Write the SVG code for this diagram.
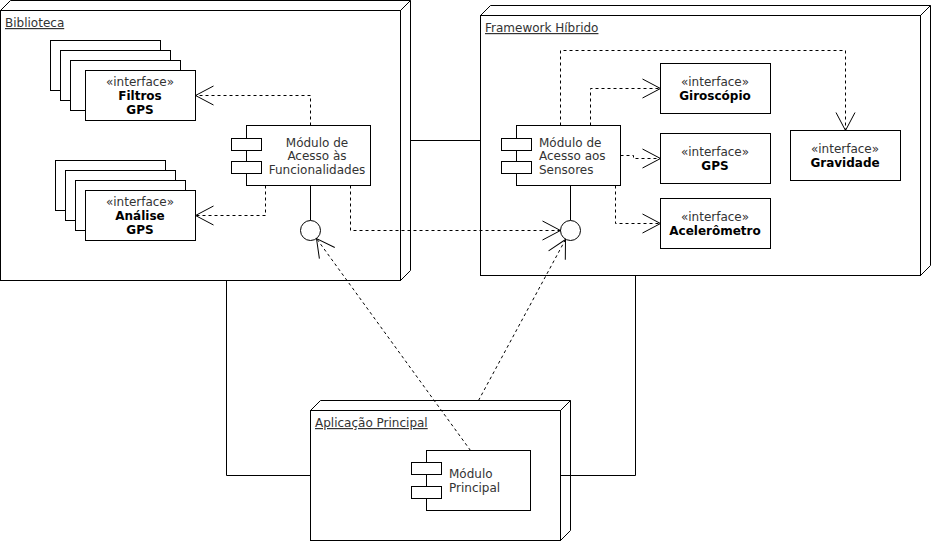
<svg xmlns="http://www.w3.org/2000/svg" width="931" height="541" viewBox="0 0 931 541">
<style>
  .ln{fill:none;stroke:#000;stroke-width:1}
  .box{fill:#fff;stroke:#000;stroke-width:1}
  .dash{fill:none;stroke:#000;stroke-width:1;stroke-dasharray:3 3}
  .t{font-family:"DejaVu Sans",Verdana,sans-serif;font-size:12px;fill:#333}
  .b{font-family:"DejaVu Sans",Verdana,sans-serif;font-size:12px;font-weight:bold;fill:#000}
  .c{text-anchor:middle}
  .u{text-decoration:underline}
</style>
<defs>
  <marker id="open" viewBox="-20 -11 22 22" markerWidth="22" markerHeight="22" refX="0" refY="0" orient="auto" markerUnits="userSpaceOnUse">
    <path d="M-18,-9.5 L0,0 L-18,9.5" fill="none" stroke="#000" stroke-width="1"/>
  </marker>
</defs>
<rect width="931" height="541" fill="#fff"/>

<g id="biblioteca">
  <polygon class="box" points="0.5,10.5 10.5,0.5 410.5,0.5 410.5,270.5 400.5,280.5 400.5,10.5"/>
  <rect class="box" x="0.5" y="10.5" width="400" height="270"/>
  <line class="ln" x1="400.5" y1="10.5" x2="410.5" y2="0.5"/>
  <text class="t u" x="5" y="27">Biblioteca</text>
</g>

<g id="framework">
  <polygon class="box" points="480.5,15.5 490.5,5.5 930.5,5.5 930.5,265.5 920.5,275.5 920.5,15.5"/>
  <rect class="box" x="480.5" y="15.5" width="440" height="260"/>
  <line class="ln" x1="920.5" y1="15.5" x2="930.5" y2="5.5"/>
  <text class="t u" x="485" y="32">Framework Híbrido</text>
</g>

<g id="aplicacao">
  <polygon class="box" points="310.5,410.5 320.5,400.5 570.5,400.5 570.5,530.5 560.5,540.5 560.5,410.5"/>
  <rect class="box" x="310.5" y="410.5" width="250" height="130"/>
  <line class="ln" x1="560.5" y1="410.5" x2="570.5" y2="400.5"/>
  <text class="t u" x="315" y="427">Aplicação Principal</text>
</g>

<g id="filtros-gps">
  <rect class="box" x="50.5" y="40.5" width="110" height="50"/>
  <rect class="box" x="60.5" y="50.5" width="110" height="50"/>
  <rect class="box" x="70.5" y="60.5" width="110" height="50"/>
  <rect class="box" x="85.5" y="70.5" width="110" height="50"/>
  <text class="t c" x="140" y="86">«interface»</text>
  <text class="b c" x="140" y="100">Filtros</text>
  <text class="b c" x="140" y="114">GPS</text>
</g>

<g id="analise-gps">
  <rect class="box" x="55.5" y="160.5" width="110" height="50"/>
  <rect class="box" x="65.5" y="170.5" width="110" height="50"/>
  <rect class="box" x="75.5" y="180.5" width="110" height="50"/>
  <rect class="box" x="85.5" y="190.5" width="110" height="50"/>
  <text class="t c" x="140" y="206">«interface»</text>
  <text class="b c" x="140" y="220">Análise</text>
  <text class="b c" x="140" y="234">GPS</text>
</g>

<g id="modulo-funcionalidades">
  <rect class="box" x="246.5" y="125.5" width="124" height="60"/>
  <rect class="box" x="231.5" y="138.5" width="30" height="12"/>
  <rect class="box" x="231.5" y="161.5" width="30" height="12"/>
  <text class="t c" x="317" y="146.5">Módulo de</text>
  <text class="t c" x="317" y="160">Acesso às</text>
  <text class="t c" x="317" y="174">Funcionalidades</text>
</g>

<g id="interface-bib">
  <line class="ln" x1="310.5" y1="185.5" x2="310.5" y2="220.5"/>
  <circle class="box" cx="310.5" cy="230.5" r="10"/>
</g>

<g id="modulo-sensores">
  <rect class="box" x="516.5" y="125.5" width="104" height="60"/>
  <rect class="box" x="501.5" y="138.5" width="30" height="12"/>
  <rect class="box" x="501.5" y="161.5" width="30" height="12"/>
  <text class="t" x="539" y="146.5">Módulo de</text>
  <text class="t" x="539" y="160">Acesso aos</text>
  <text class="t" x="539" y="174">Sensores</text>
</g>

<g id="interface-fw">
  <line class="ln" x1="570.5" y1="185.5" x2="570.5" y2="220.5"/>
  <circle class="box" cx="570.5" cy="230.5" r="10"/>
</g>

<g id="giroscopio">
  <rect class="box" x="660.5" y="63.5" width="110" height="50"/>
  <text class="t c" x="715" y="86">«interface»</text>
  <text class="b c" x="715" y="100">Giroscópio</text>
</g>

<g id="gps">
  <rect class="box" x="660.5" y="133.5" width="110" height="50"/>
  <text class="t c" x="715" y="156">«interface»</text>
  <text class="b c" x="715" y="170">GPS</text>
</g>

<g id="acelerometro">
  <rect class="box" x="660.5" y="198.5" width="110" height="50"/>
  <text class="t c" x="715" y="221">«interface»</text>
  <text class="b c" x="715" y="234.5">Acelerômetro</text>
</g>

<g id="gravidade">
  <rect class="box" x="790.5" y="130.5" width="110" height="50"/>
  <text class="t c" x="845" y="152.5">«interface»</text>
  <text class="b c" x="845" y="167">Gravidade</text>
</g>

<g id="modulo-principal">
  <rect class="box" x="426.5" y="450.5" width="104" height="60"/>
  <rect class="box" x="411.5" y="462.5" width="30" height="12"/>
  <rect class="box" x="411.5" y="486.5" width="30" height="12"/>
  <text class="t" x="449" y="477.5">Módulo</text>
  <text class="t" x="449" y="491.5">Principal</text>
</g>

<g id="connectors">
  <path class="ln" d="M410.5,140.5 H480.5"/>
  <path class="ln" d="M226.5,280.5 V475.5 H310.5"/>
  <path class="ln" d="M635.5,275.5 V475.5 H560.5"/>

  <path class="dash" marker-end="url(#open)" d="M310.5,125.5 V95.5 H195.5"/>
  <path class="dash" marker-end="url(#open)" d="M265.5,185.5 V215.5 H195.5"/>
  <path class="dash" marker-end="url(#open)" d="M350.5,185.5 V230.5 H560.5"/>
  <path class="dash" marker-end="url(#open)" d="M590.5,125.5 V88.5 H660.5"/>
  <path class="dash" marker-end="url(#open)" d="M620.5,155.5 H633.5 V158.5 H660.5"/>
  <path class="dash" marker-end="url(#open)" d="M615.5,185.5 V223.5 H660.5"/>
  <path class="dash" marker-end="url(#open)" d="M560.5,125.5 V50.5 H845.5 V130.5"/>
  <path class="dash" marker-end="url(#open)" d="M470.5,450.5 L316.5,238.5"/>
  <path class="dash" marker-end="url(#open)" d="M478.5,400.5 L565.5,239.5"/>
</g>
</svg>
